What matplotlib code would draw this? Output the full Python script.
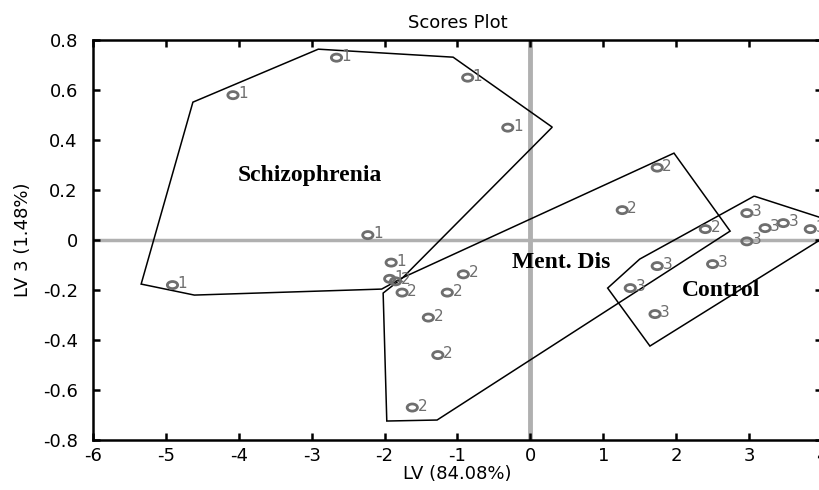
import matplotlib.pyplot as plt
from matplotlib.path import Path
from matplotlib.transforms import Affine2D

plt.rcParams['font.family'] = ['DejaVu Sans']
plt.rcParams['axes.unicode_minus'] = False

# scores (LV, LV3) per group
g1_x = [-2.66, -4.08, -0.86, -0.31, -2.23, -4.91, -1.91, -1.93]
g1_y = [0.73, 0.58, 0.65, 0.45, 0.02, -0.18, -0.09, -0.155]
g2_x = [1.74, 1.26, 2.40, -0.92, -1.14, -1.40, -1.27, -1.62, -1.76, -1.85]
g2_y = [0.29, 0.12, 0.044, -0.137, -0.21, -0.31, -0.46, -0.67, -0.21, -0.165]
g3_x = [2.97, 3.22, 3.47, 3.84, 2.97, 1.74, 2.50, 1.37, 1.71]
g3_y = [0.108, 0.048, 0.068, 0.044, -0.005, -0.104, -0.096, -0.192, -0.296]

# group outlines
hull1_x = [-4.63, -2.91, -1.06, 0.30, -1.75, -2.04, -4.61, -5.34]
hull1_y = [0.552, 0.764, 0.732, 0.452, -0.15, -0.196, -0.22, -0.176]
hull2_x = [-1.97, -2.02, -1.75, 1.97, 2.74, -1.28]
hull2_y = [-0.724, -0.212, -0.15, 0.348, 0.036, -0.72]
hull3_x = [3.07, 4.3, 1.64, 1.06, 1.50]
hull3_y = [0.176, 0.06, -0.424, -0.192, -0.076]

groups = [("1", g1_x, g1_y), ("2", g2_x, g2_y), ("3", g3_x, g3_y)]
hulls = [(hull1_x, hull1_y), (hull2_x, hull2_y), (hull3_x, hull3_y)]

# flattened circle marker, like the stretched original
oval = Path.unit_circle().transformed(Affine2D().scale(1.45, 1.0))

fig = plt.figure(figsize=(8.19, 4.90), dpi=100)
ax = fig.add_axes([0.1136, 0.102, 0.89, 0.816])

ax.axhline(0, color='#b0b0b0', lw=2.5, zorder=1)
ax.axvline(0, color='#b0b0b0', lw=3.5, zorder=1)

for hx, hy in hulls:
    ax.fill(hx, hy, fill=False, edgecolor='black', lw=1.1, zorder=2)

for lab, xs, ys in groups:
    ax.scatter(xs, ys, s=55, marker=oval, facecolors='none', edgecolors='#6e6e6e', linewidths=2, zorder=3)
    for x, y in zip(xs, ys):
        ax.text(x + 0.07, y + 0.006, lab, color='#6e6e6e', fontsize=11, va='center', ha='left', zorder=3)

serif = dict(family='Liberation Serif', fontweight='bold', fontsize=17, ha='center', va='center')
ax.text(-3.02, 0.26, 'Schizophrenia', **serif)
ax.text(0.42, -0.09, 'Ment. Dis', **serif)
ax.text(2.61, -0.2, 'Control', **serif)

ax.set_xlim(-6, 4)
ax.set_ylim(-0.8, 0.8)
ax.set_xticks(range(-6, 5))
ax.set_yticks([-0.8, -0.6, -0.4, -0.2, 0, 0.2, 0.4, 0.6, 0.8])
ax.set_yticklabels(['-0.8', '-0.6', '-0.4', '-0.2', '0', '0.2', '0.4', '0.6', '0.8'])
ax.tick_params(direction='in', top=True, right=True, labelsize=13, length=5, width=1.8, pad=5)
ax.tick_params(axis='y', pad=11)
for s in ax.spines.values():
    s.set_linewidth(1.8)

ax.set_title('Scores Plot', fontsize=13, pad=9)
ax.set_xlabel('LV (84.08%)', fontsize=13, labelpad=0)
ax.set_ylabel('LV 3 (1.48%)', fontsize=13, labelpad=8)

fig.savefig('out.png', dpi=100)
